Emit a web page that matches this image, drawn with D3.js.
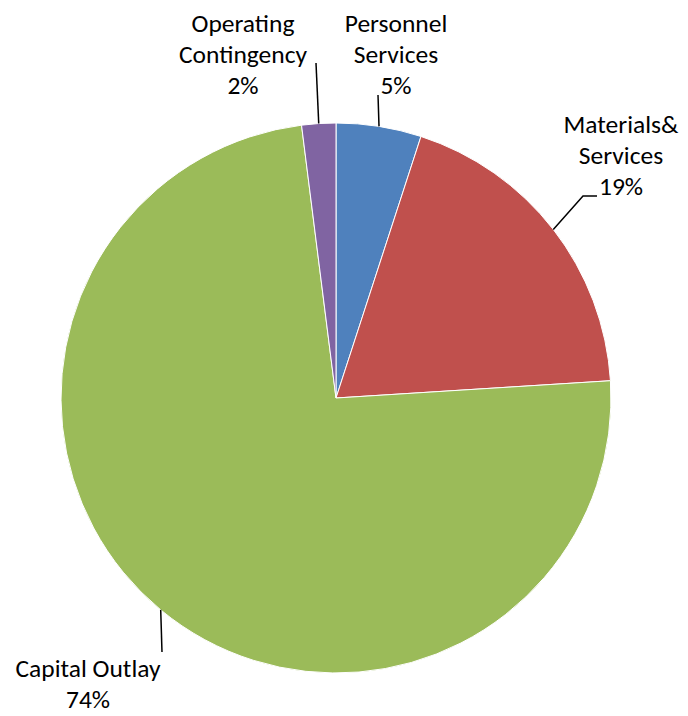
<!DOCTYPE html>
<meta charset="utf-8">
<style>

body {
  margin: 0;
  background: #fff;
}

svg text {
  font-family: Carlito, Calibri, Lato, sans-serif;
  font-size: 25.5px;
  fill: #000;
}

.slice path {
  stroke: #fff;
  stroke-width: 1px;
}

.leader {
  fill: none;
  stroke: #000;
  stroke-width: 1.5px;
}

</style>
<body>
<script src="https://cdn.jsdelivr.net/npm/d3@7"></script>
<script>

// budget shares, clockwise from twelve o'clock
var categories = ["Personnel Services", "Materials& Services", "Capital Outlay", "Operating Contingency"],
    values = [5, 19, 74, 2],
    colors = ["#4F81BD", "#C0504D", "#9BBB59", "#8064A2"];

// label lines as Excel wrapped them
var labelLines = [
  ["Personnel", "Services"],
  ["Materials&", "Services"],
  ["Capital Outlay"],
  ["Operating", "Contingency"]
];

var width = 688,
    height = 716,
    cx = 336,
    cy = 398,
    radius = 275,
    lineHeight = 31;

// where each label block sits (center x, first baseline) and the elbow of its leader
var labelPos = [
  {x: 396, y: 32, lead: [[378, 95]]},
  {x: 621, y: 133, lead: [[597, 196], [583, 196]]},
  {x: 88, y: 677, lead: [[162, 652]]},
  {x: 243, y: 32, lead: [[316, 63]]}
];

var svg = d3.select("body").append("svg")
    .attr("width", width)
    .attr("height", height);

var g = svg.append("g")
    .attr("transform", "translate(" + cx + "," + cy + ")");

var pie = d3.pie().sort(null).value(function(d) { return d; });
var arcs = pie(values);

var arc = d3.arc().innerRadius(0).outerRadius(radius);
var edge = d3.arc().innerRadius(radius).outerRadius(radius);

g.selectAll(".slice")
    .data(arcs)
  .enter().append("g")
    .attr("class", "slice")
  .append("path")
    .attr("d", arc)
    .style("fill", function(d, i) { return colors[i]; });

// leader lines: from label elbow to the middle of the slice's rim
arcs.forEach(function(d, i) {
  var c = edge.centroid(d);
  var pts = labelPos[i].lead.map(function(p) { return [p[0] - cx, p[1] - cy]; });
  pts.push(c);
  g.append("path")
      .attr("class", "leader")
      .attr("d", d3.line()(pts));
});

var labels = svg.selectAll(".label")
    .data(arcs)
  .enter().append("text")
    .attr("class", "label")
    .attr("text-anchor", "middle");

labels.each(function(d, i) {
  var t = d3.select(this),
      p = labelPos[i],
      lines = labelLines[i].concat([values[i] + "%"]);
  lines.forEach(function(s, k) {
    t.append("tspan")
        .attr("x", p.x)
        .attr("y", p.y + k * lineHeight)
        .text(s);
  });
});

</script>
